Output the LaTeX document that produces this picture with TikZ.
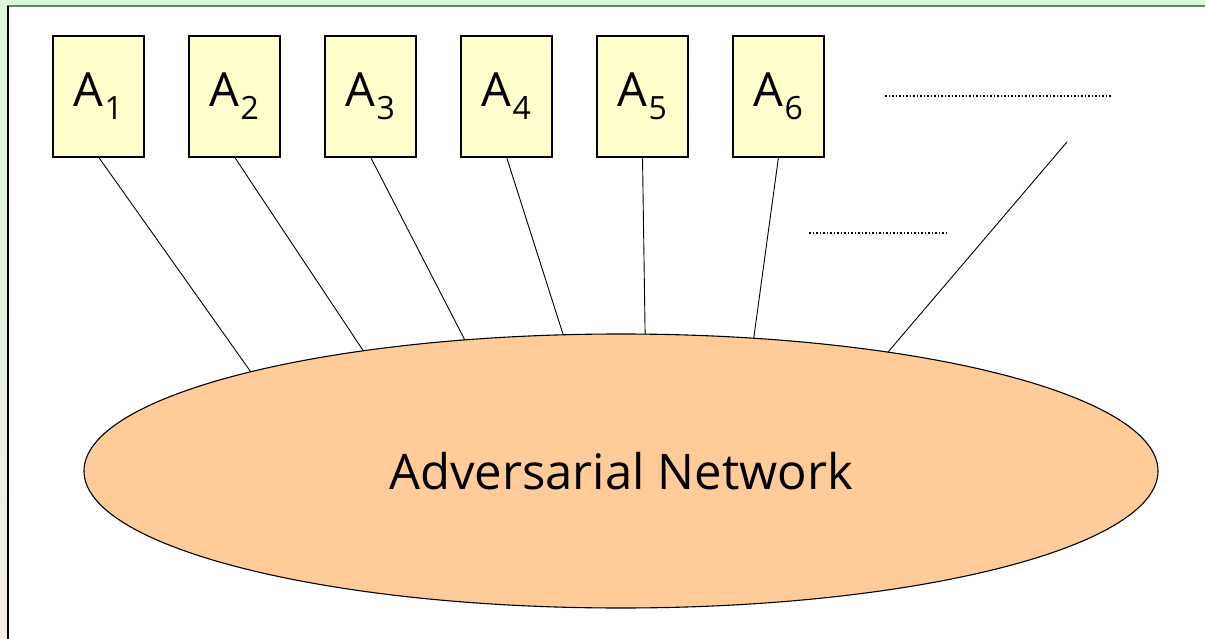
\documentclass[tikz,border=0pt]{standalone}
\usepackage{fontspec}
\setmainfont{Open Sans}
\usetikzlibrary{shapes.geometric}
\definecolor{bgtop}{RGB}{217,247,217}
\definecolor{bgbot}{RGB}{243,236,228}
\definecolor{agentfill}{RGB}{255,255,204}
\definecolor{netfill}{RGB}{255,204,153}
\definecolor{frameline}{RGB}{110,125,110}
\tikzset{
  agent/.style={draw=black, line width=1.1pt, fill=agentfill, rectangle,
    minimum width=91pt, minimum height=121pt, inner sep=0pt, outer sep=0pt,
    font=\fontsize{47}{47}\selectfont},
  network/.style={draw=black, line width=1.1pt, fill=netfill, ellipse,
    minimum width=1074pt, minimum height=274pt, inner sep=0pt, outer sep=0pt,
    font=\fontsize{49}{49}\selectfont},
  link/.style={draw=black, line width=0.9pt},
  dots/.style={draw=black, line width=1.8pt, dash pattern=on 1.6pt off 1.9pt}
}
\newcommand{\agentlabel}[1]{A\kern1pt\raisebox{-13pt}{\fontsize{32}{32}\selectfont #1}}
\begin{document}
\begin{tikzpicture}[x=1pt,y=-1pt]
  \useasboundingbox (0,0) rectangle (1205,639);
  % page background and white panel
  \shade[top color=bgtop, bottom color=bgbot] (0,0) rectangle (1205,639);
  \fill[white] (8,6) rectangle (1205,639);
  \draw[frameline, line width=1.4pt] (8,639) -- (8,6) -- (1205,6);
  \draw[black, line width=1.4pt] (8,639) -- (8,6);

  % network
  \node[network] (net) at (621,471) {Adversarial Network};

  % agents
  \foreach \i in {1,...,6}{
    \node[agent] (a\i) at ({98.5+136*(\i-1)},96.5) {\agentlabel{\i}};
  }

  % further agents, elided
  \coordinate (more) at (1067,142);
  \coordinate (dotsAl) at (885,96);
  \coordinate (dotsAr) at (1112,96);
  \coordinate (dotsBl) at (809,233);
  \coordinate (dotsBr) at (946,233);
  \draw[dots] (dotsAl) -- (dotsAr);
  \draw[dots] (dotsBl) -- (dotsBr);

  % links to the network
  \draw[link] (a1.south) -- (net.165.39);
  \draw[link] (a2.south) -- (net.155.24);
  \draw[link] (a3.south) -- (net.140.19);
  \draw[link] (a4.south) -- (net.113.25);
  \draw[link] (a5.south) -- (net.80.88);
  \draw[link] (a6.south) -- (net.45.22);
  \draw[link] (more) -- (net.24.25);
\end{tikzpicture}
\end{document}
